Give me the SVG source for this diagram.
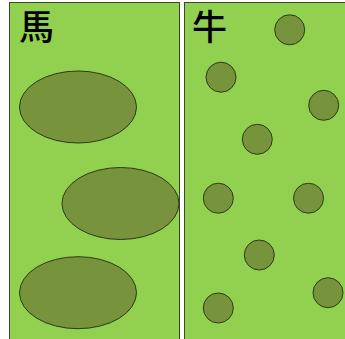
<svg xmlns="http://www.w3.org/2000/svg" width="345" height="339" viewBox="0 0 345 339">
<style>
.pen{fill:#92d050;stroke:#3a4a28;stroke-width:1}
.blob{fill:#77933c;stroke:#2b3a18;stroke-width:1}
.lbl{font-family:"Noto Sans CJK JP","Noto Sans CJK SC",sans-serif;font-size:35px;font-weight:500;fill:#000}
</style>
<rect width="345" height="339" fill="#fff"/>
<g id="horse">
<rect class="pen" x="9.5" y="2.5" width="170" height="340"/>
<text class="lbl" x="19" y="40">馬</text>
<ellipse class="blob" cx="78" cy="107" rx="58.5" ry="36"/>
<ellipse class="blob" cx="120.5" cy="203.5" rx="58.5" ry="36"/>
<ellipse class="blob" cx="78" cy="292.7" rx="58.5" ry="36"/>
</g>
<g id="cow">
<rect class="pen" x="184.5" y="2.5" width="165" height="340"/>
<text class="lbl" x="192" y="40">牛</text>
<circle class="blob" cx="289.7" cy="29.8" r="15"/>
<circle class="blob" cx="221" cy="77.2" r="15"/>
<circle class="blob" cx="323.7" cy="105.3" r="15"/>
<circle class="blob" cx="257.3" cy="139.3" r="15"/>
<circle class="blob" cx="218.3" cy="198.2" r="15"/>
<circle class="blob" cx="308.5" cy="198.2" r="15"/>
<circle class="blob" cx="259.3" cy="255" r="15"/>
<circle class="blob" cx="218.3" cy="308" r="15"/>
<circle class="blob" cx="328" cy="292.7" r="15"/>
</g>
<g id="connectors"/>
</svg>
